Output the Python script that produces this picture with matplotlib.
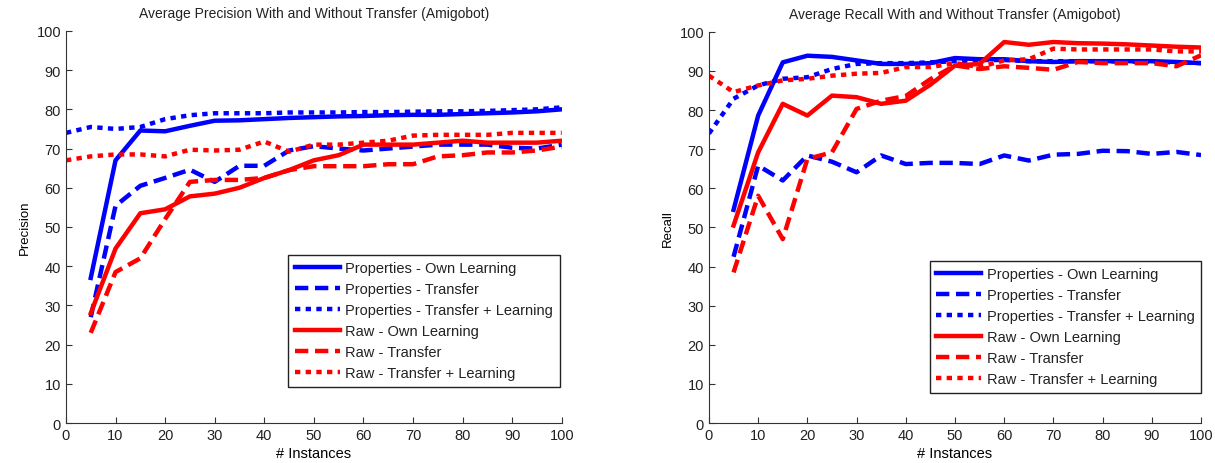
import numpy as np
import matplotlib
matplotlib.use('Agg')
import matplotlib.pyplot as plt

x_own = list(range(5, 105, 5))
x_tl = list(range(0, 105, 5))

# precision
prec_prop_own = [37, 67, 74.6, 74.4, 75.8, 77.1, 77.2, 77.5, 77.8, 78, 78.2, 78.3, 78.5, 78.6, 78.6, 78.8, 79, 79.2, 79.5, 80]
prec_prop_tr = [27, 55.4, 60.5, 62.5, 64.6, 61.5, 65.6, 65.6, 69.5, 70.6, 70, 69.5, 70, 70.5, 71, 71, 71, 70.2, 70, 71]
prec_prop_tl = [74, 75.5, 75, 75.5, 77.5, 78.5, 79, 79, 79, 79.2, 79.2, 79.2, 79.3, 79.3, 79.4, 79.5, 79.5, 79.6, 79.8, 80, 80.5]
prec_raw_own = [28, 44.5, 53.5, 54.5, 57.8, 58.5, 60, 62.5, 64.5, 67, 68.3, 71, 71, 71, 71.5, 72, 71.5, 71.5, 71.5, 72]
prec_raw_tr = [23, 38.5, 42, 52, 61.5, 62, 62, 62.5, 64.5, 65.5, 65.5, 65.5, 66, 66, 68, 68.3, 69, 69, 69.5, 70.5]
prec_raw_tl = [67, 68, 68.5, 68.5, 68, 69.7, 69.5, 69.7, 71.8, 69.2, 71, 71, 71.5, 72, 73.3, 73.5, 73.5, 73.5, 74, 74, 74]

# recall
rec_prop_own = [54.5, 78.6, 92.2, 93.9, 93.6, 92.7, 91.8, 91.8, 92, 93.3, 93, 93, 92.5, 92.3, 92.5, 92.5, 92.5, 92.5, 92.3, 92]
rec_prop_tr = [42.5, 65.8, 62, 68.4, 66.8, 64.1, 68.4, 66.2, 66.5, 66.5, 66.2, 68.4, 67.1, 68.6, 68.8, 69.6, 69.5, 68.8, 69.3, 68.5]
rec_prop_tl = [74, 82.9, 86.3, 88, 88.4, 90.5, 91.8, 92, 92, 92.2, 92.5, 92.8, 92.8, 92.5, 92.5, 92.5, 92.5, 92.4, 92.3, 92.2, 92]
rec_raw_own = [50.5, 69.2, 81.6, 78.6, 83.7, 83.3, 81.6, 82.4, 86.5, 91.4, 91.8, 97.4, 96.7, 97.4, 97.1, 97, 96.8, 96.5, 96.2, 96]
rec_raw_tr = [38.5, 58.1, 47, 67.5, 69.2, 80.3, 82.4, 83.6, 87.9, 91.4, 90.5, 91.2, 90.8, 90.3, 92.3, 92, 92, 92, 91.2, 94]
rec_raw_tl = [88.8, 84.6, 86.3, 87.6, 88, 88.8, 89.3, 89.5, 91, 91, 92, 91, 92.7, 93, 95.7, 95.5, 95.5, 95.5, 95.5, 95, 95]

labels = ['Properties - Own Learning', 'Properties - Transfer', 'Properties - Transfer + Learning',
          'Raw - Own Learning', 'Raw - Transfer', 'Raw - Transfer + Learning']

plt.rcParams['font.family'] = ['Liberation Sans', 'DejaVu Sans']
plt.rcParams['font.size'] = 9
plt.rcParams['text.color'] = '#222222'

fig = plt.figure(figsize=(12.15, 4.64), dpi=100)
ax1 = fig.add_axes([0.0543, 0.0862, 0.408, 0.845])
ax2 = fig.add_axes([0.5835, 0.0862, 0.405, 0.843])

dash = (0, (3, 1.5))
dot = (0, (1.2, 1.2))


def draw(ax, series, title, ylabel, loc_box):
    styles = [('blue', '-', x_own), ('blue', dash, x_own), ('blue', dot, x_tl),
              ('red', '-', x_own), ('red', dash, x_own), ('red', dot, x_tl)]
    for (c, ls, xs), ys, lab in zip(styles, series, labels):
        ax.plot(xs, ys, color=c, linestyle=ls, lw=3.2, label=lab)
    ax.set_xlim(0, 100)
    ax.set_ylim(0, 100)
    ax.set_xticks(np.arange(0, 101, 10))
    ax.set_yticks(np.arange(0, 101, 10))
    ax.spines['top'].set_visible(False)
    ax.spines['right'].set_visible(False)
    for s in ('left', 'bottom'):
        ax.spines[s].set_color('#333333')
    ax.tick_params(direction='in', length=4, labelsize=10.5, colors='#333333', labelcolor='#222222')
    ax.set_title(title, fontsize=10, pad=10)
    ax.set_xlabel('# Instances', fontsize=10.5, labelpad=3)
    ax.set_ylabel(ylabel, fontsize=9.5)
    leg = ax.legend(loc='lower right', bbox_to_anchor=loc_box, fontsize=10.5, handlelength=3.1,
                    fancybox=False, framealpha=1, edgecolor='#222222', borderpad=0.45,
                    labelspacing=0.48, handletextpad=0.35, borderaxespad=0)
    leg.get_frame().set_linewidth(1)


draw(ax1, [prec_prop_own, prec_prop_tr, prec_prop_tl, prec_raw_own, prec_raw_tr, prec_raw_tl],
     'Average Precision With and Without Transfer (Amigobot)', 'Precision', (0.996, 0.092))
draw(ax2, [rec_prop_own, rec_prop_tr, rec_prop_tl, rec_raw_own, rec_raw_tr, rec_raw_tl],
     'Average Recall With and Without Transfer (Amigobot)', 'Recall', (1.0, 0.077))

fig.savefig('out.png', dpi=100)
